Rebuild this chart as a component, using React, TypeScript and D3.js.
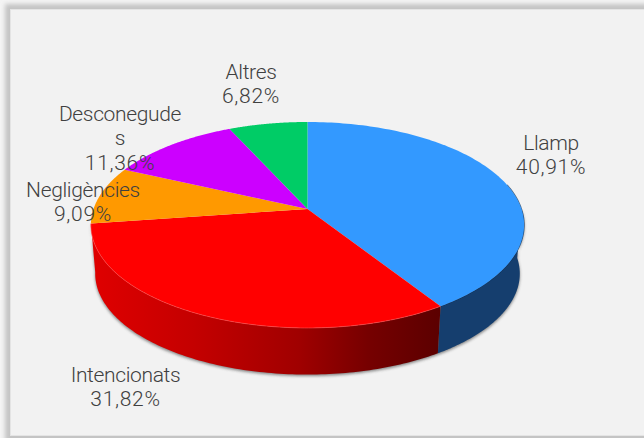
import React from "react";
import * as d3 from "d3";

const categories = ["Llamp", "Intencionats", "Negligències", "Desconegudes", "Altres"];
const values = [40.91, 31.82, 9.09, 11.36, 6.82];
const percentLabels = ["40,91%", "31,82%", "9,09%", "11,36%", "6,82%"];
const colors = ["#3399ff", "#ff0000", "#ff9900", "#cc00ff", "#00cc66"];
const sideColors = ["#153e6e", "#c00000", "#b36b00", "#8f00b3", "#008f47"];
const labelLines = [["Llamp"], ["Intencionats"], ["Negligències"], ["Desconegude", "s"], ["Altres"]];
const labelCenters: [number, number][] = [[551, 150], [125.5, 382], [83, 197], [120, 121], [251, 79]];

const W = 644, H = 438, CX = 307.5, CY = 209;
const RX = 214, RY = 100.5, PERSP = 0.155, DEPTH = 49, BOTTOM_SCALE = 0.98;
const FONT = "Roboto, sans-serif";

const project = (theta: number, scale = 1, dz = 0): [number, number] => {
  const u = Math.sin(theta), v = Math.cos(theta), w = 1 + PERSP * v;
  return [CX + (RX * u * scale) / w, CY + dz - (RY * v * scale) / w];
};
const sweep = (a0: number, a1: number, scale = 1, dz = 0) =>
  d3.range(0, 121).map((i) => project(a0 + ((a1 - a0) * i) / 120, scale, dz));

export default function App() {
  const pie = d3.pie<number>().sort(null)(values);
  const line = d3.line();
  const wedge = (a0: number, a1: number) => line([[CX, CY], ...sweep(a0, a1)])! + "Z";
  const side = (a0: number, a1: number) =>
    line([...sweep(a0, a1), ...sweep(a0, a1, BOTTOM_SCALE, DEPTH).reverse()])! + "Z";
  const visibleEnd = Math.PI * 1.5 - 0.13;
  const body = line([...sweep(Math.PI * 0.5, visibleEnd), ...sweep(Math.PI * 0.5, visibleEnd, BOTTOM_SCALE, DEPTH).reverse()])! + "Z";
  const redEdge = sweep(pie[1].startAngle, pie[1].endAngle);
  const blueEdge = sweep(Math.PI * 0.42, pie[0].endAngle);

  return (
    <svg width={W} height={H} style={{ position: "fixed", left: 0, top: 0, background: "#f4f4f4" }}>
      <defs>
        <linearGradient id="redSide" gradientUnits="userSpaceOnUse" x1={90} x2={438} y1={0} y2={0}>
          <stop offset="0" stopColor="#e00000" />
          <stop offset="0.3" stopColor="#c40000" />
          <stop offset="0.6" stopColor="#a00000" />
          <stop offset="0.8" stopColor="#760000" />
          <stop offset="1" stopColor="#5c0000" />
        </linearGradient>
        <filter id="shadow" x="-10%" y="-10%" width="120%" height="130%">
          <feGaussianBlur stdDeviation="1.5" />
        </filter>
        <filter id="frameBlur" x="-5%" y="-5%" width="110%" height="110%">
          <feGaussianBlur stdDeviation="2" />
        </filter>
        <filter id="soft" x="-5%" y="-5%" width="110%" height="110%">
          <feGaussianBlur stdDeviation="0.7" />
        </filter>
      </defs>

      <rect x={5} y={4} width={W + 20} height={H + 20} fill="#c4c4c4" filter="url(#frameBlur)" />
      <rect x={10.5} y={9.5} width={W} height={426} fill="#f2f2f2" stroke="#e4e4e4" strokeWidth={1} />

      <path d={body} transform="translate(0,1.5)" fill="#444" opacity={0.65} filter="url(#shadow)" />

      {pie.map((p, i) =>
        i < 2 ? (
          <path key={categories[i]}
            d={side(Math.max(p.startAngle, Math.PI * 0.5), Math.min(p.endAngle, visibleEnd + 0.13))}
            fill={i === 1 ? "url(#redSide)" : sideColors[i]} />
        ) : null
      )}

      <path d={line(blueEdge)!} fill="none" stroke="#0d2f55" strokeWidth={1.2} opacity={0.7} filter="url(#soft)" />
      {pie.map((p, i) => (
        <path key={categories[i]} d={wedge(p.startAngle, p.endAngle)} fill={colors[i]} />
      ))}
      <path d={line(redEdge)!} fill="none" stroke="#ff5050" strokeWidth={1} opacity={0.6} />

      {labelLines.map((lines, i) => {
        const lh = 24.3;
        const [lx, ly] = labelCenters[i];
        return (
          <text key={categories[i]} textAnchor="middle" fontFamily={FONT} fontSize={21} fontWeight={300} fill="#404040">
            {lines.map((t, j) => (
              <tspan key={j} x={lx} y={ly + j * lh} letterSpacing={-0.35}>{t}</tspan>
            ))}
            <tspan x={lx} y={ly + lines.length * lh} letterSpacing={0.7}>{percentLabels[i]}</tspan>
          </text>
        );
      })}
    </svg>
  );
}
